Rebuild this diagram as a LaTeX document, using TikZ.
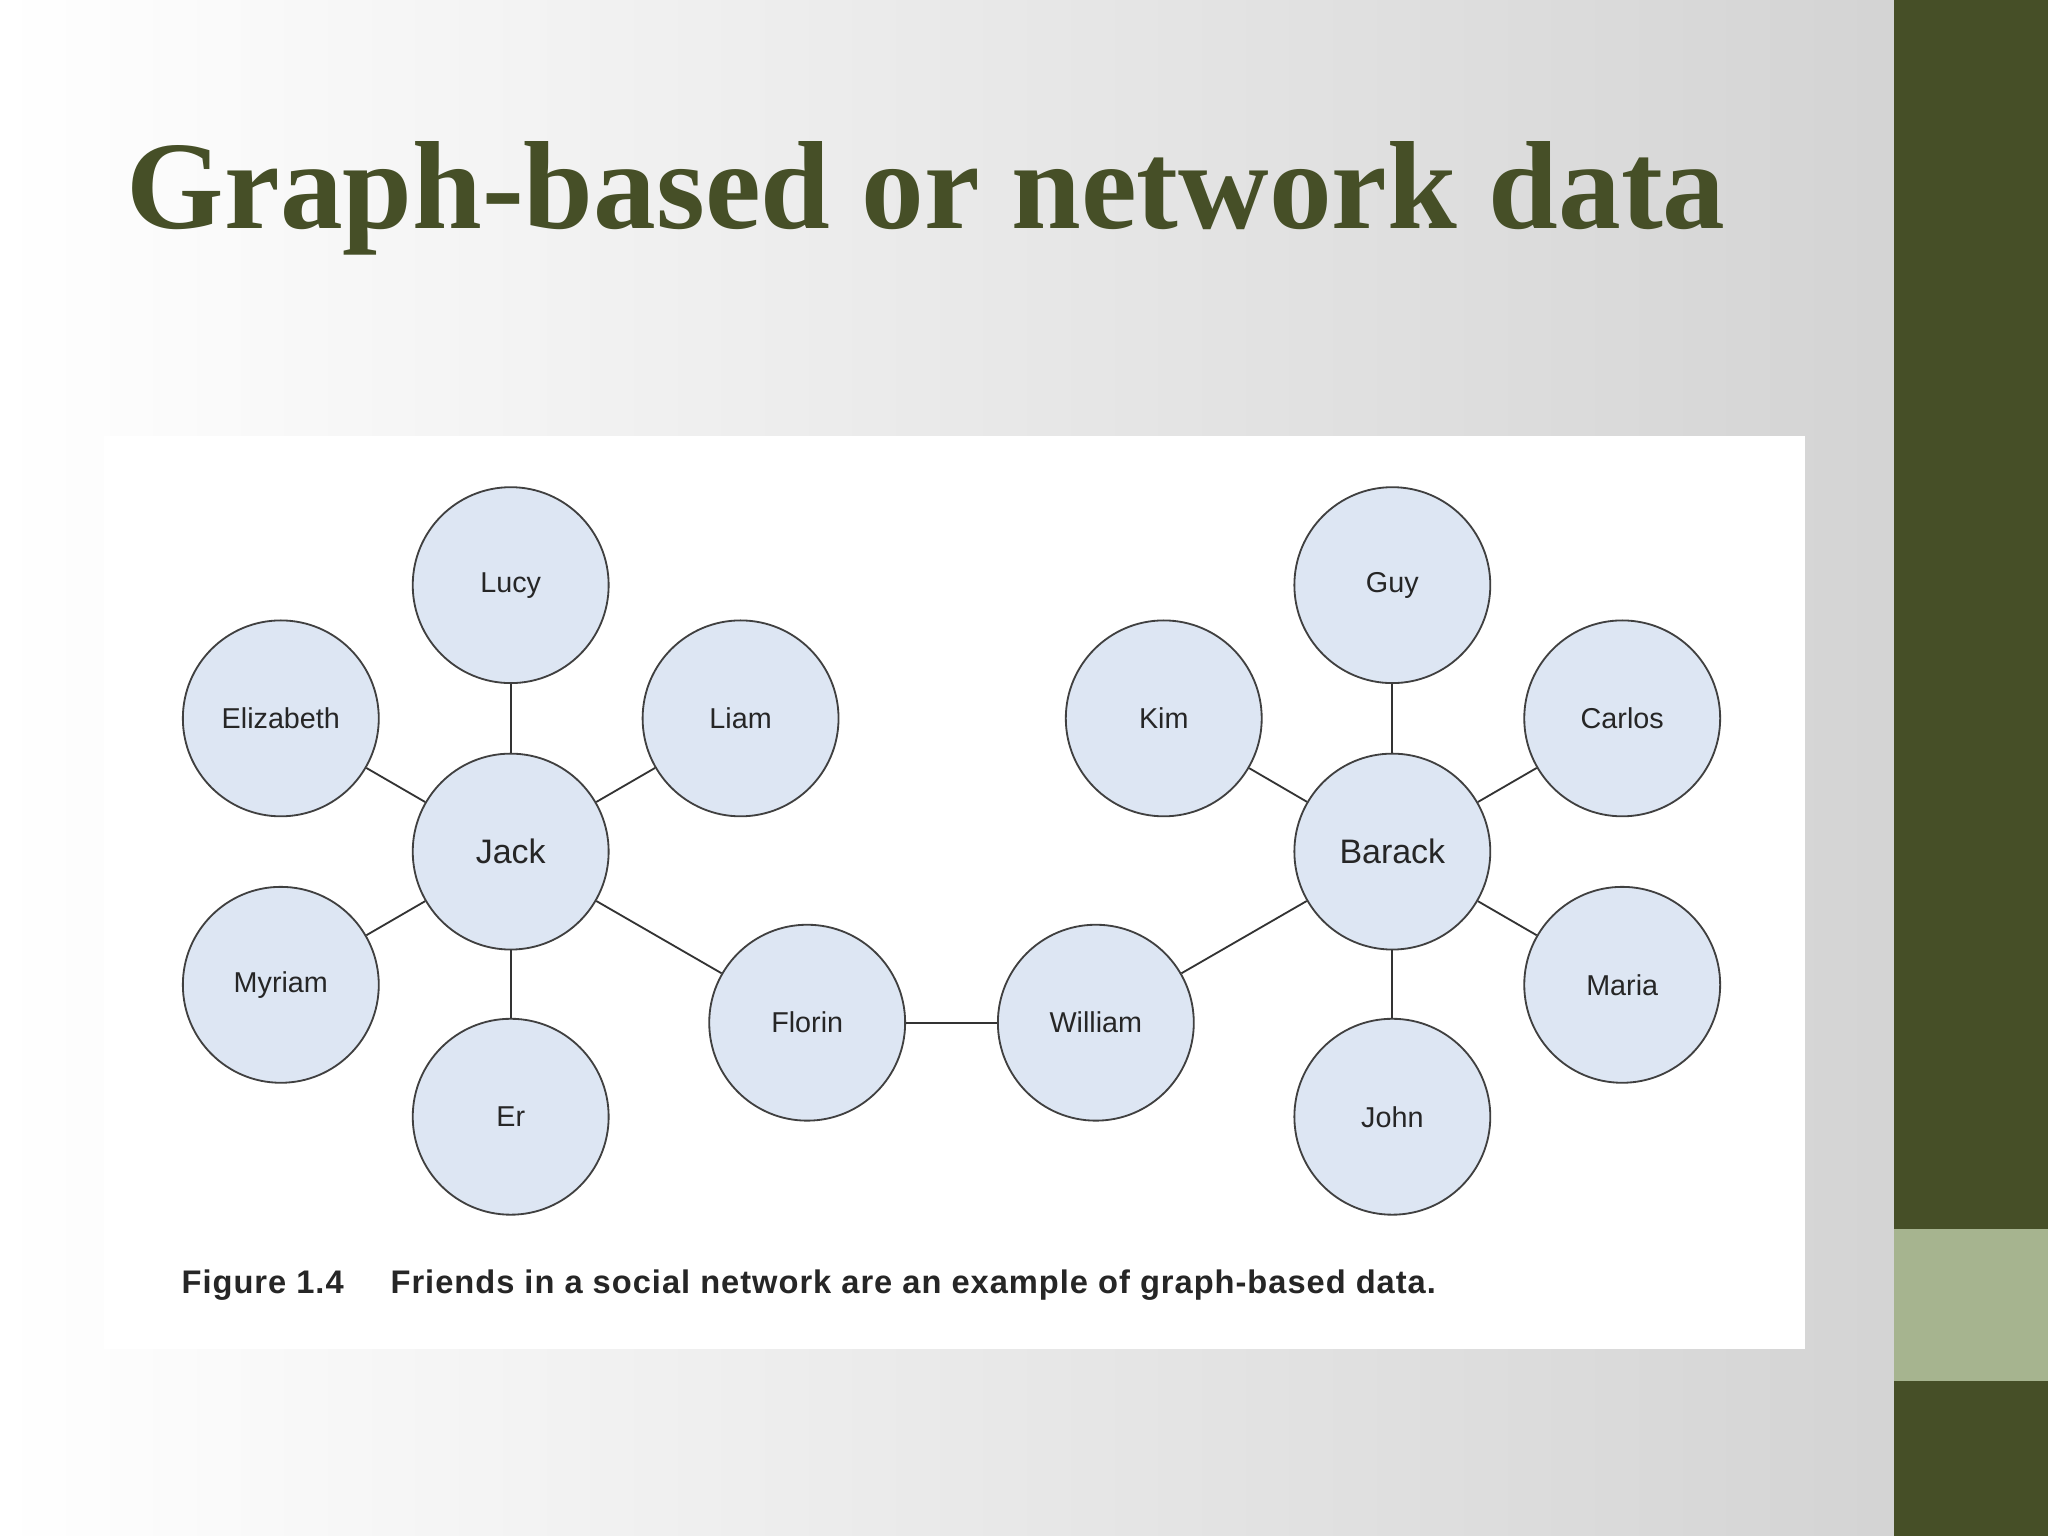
\documentclass[tikz,border=0pt]{standalone}
\usepackage{fontspec}
\setmainfont{Liberation Serif}
\newfontfamily\lsans{Liberation Sans}
\newfontfamily\lsansw[LetterSpace=3]{Liberation Sans}
\definecolor{olive}{HTML}{464F27}
\definecolor{lolive}{HTML}{A6B48F}
\definecolor{nodefill}{HTML}{DDE6F3}
\begin{document}
\begin{tikzpicture}[x=0.5pt,y=-0.5pt,
  pers/.style={circle,draw=black!75,line width=0.7pt,fill=nodefill,minimum size=75pt,inner sep=0pt,font=\lsans\fontsize{11}{13}\selectfont,text=black!85},
  big/.style={font=\lsans\fontsize{13}{15}\selectfont},
  edge/.style={draw=black!80,line width=0.7pt}]
\useasboundingbox (0,0) rectangle (1568,1176);
\shade[left color=white,right color=black!17] (0,0) rectangle (1450,1176);
\fill[olive] (1450,0) rectangle (1568,1176);
\fill[lolive] (1450,941) rectangle (1568,1057);
\node[anchor=west,text=olive,font=\bfseries\fontsize{48}{58}\selectfont] (title) at (90,152) {Graph-based or network data};
\fill[white] (80,334) rectangle (1382,1033);
\node[pers] (lucy) at (391,448) {Lucy};
\node[pers] (eliz) at (215,550) {Elizabeth};
\node[pers] (liam) at (567,550) {Liam};
\node[pers,big] (jack) at (391,652) {Jack};
\node[pers] (myriam) at (215,754) {Myriam};
\node[pers] (er) at (391,855) {Er};
\node[pers] (florin) at (618,783) {Florin};
\node[pers] (william) at (839,783) {William};
\node[pers] (kim) at (891,550) {Kim};
\node[pers] (guy) at (1066,448) {Guy};
\node[pers] (carlos) at (1242,550) {Carlos};
\node[pers,big] (barack) at (1066,652) {Barack};
\node[pers] (maria) at (1242,754) {Maria};
\node[pers] (john) at (1066,855) {John};
\foreach \n in {lucy,eliz,liam,myriam,er,florin} \draw[edge] (jack) -- (\n);
\draw[edge] (florin) -- (william);
\draw[edge] (william) -- (barack);
\foreach \n in {guy,kim,carlos,maria,john} \draw[edge] (barack) -- (\n);
\node[anchor=west,font=\lsansw\bfseries\fontsize{12.5}{14}\selectfont,text=black!85] (fig) at (132,984) {Figure 1.4};
\node[anchor=west,font=\lsansw\bfseries\fontsize{12.5}{14}\selectfont,text=black!85] (cap) at (292,984) {Friends in a social network are an example of graph-based data.};
\end{tikzpicture}
\end{document}
